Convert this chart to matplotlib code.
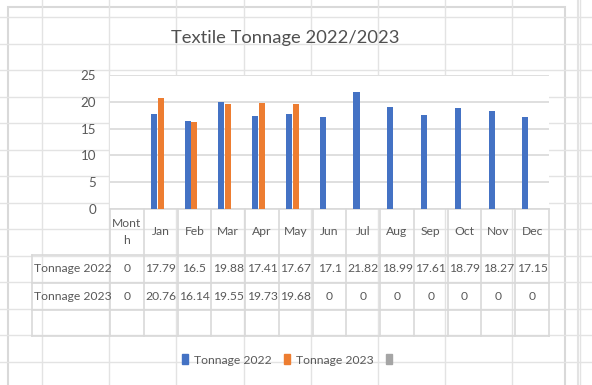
# bar chart of monthly textile tonnage with an Excel-style data table underneath

import matplotlib
matplotlib.use("Agg")
import matplotlib.pyplot as plt
from matplotlib import font_manager
from matplotlib.patches import Rectangle, Patch
import numpy as np

# data as entered in the sheet (first column is the "Month" header column)
categories = ["Month", "Jan", "Feb", "Mar", "Apr", "May", "Jun",
              "Jul", "Aug", "Sep", "Oct", "Nov", "Dec"]
header_labels = ["Mont\nh", "Jan", "Feb", "Mar", "Apr", "May", "Jun",
                 "Jul", "Aug", "Sep", "Oct", "Nov", "Dec"]
tonnage_2022 = [0, 17.79, 16.5, 19.88, 17.41, 17.67, 17.1,
                21.82, 18.99, 17.61, 18.79, 18.27, 17.15]
tonnage_2023 = [0, 20.76, 16.14, 19.55, 19.73, 19.68, 0,
                0, 0, 0, 0, 0, 0]
series_names = ["Tonnage 2022", "Tonnage 2023", ""]
series_colors = ["#4472C4", "#ED7D31", "#A5A5A5"]

# pick a narrow sans font if it is there
names = {f.name for f in font_manager.fontManager.ttflist}
base_font = "Liberation Sans Narrow" if "Liberation Sans Narrow" in names else "Lato"
plt.rcParams["font.family"] = [base_font, "DejaVu Sans"]

text_col = "#595959"
line_col = "#D9D9D9"
fs = 8.7
W, H = 592, 385

fig = plt.figure(figsize=(W / 100, H / 100), dpi=100)

# spreadsheet behind the chart object
bg = fig.add_axes([0, 0, 1, 1], zorder=-1)
bg.set_xlim(0, W)
bg.set_ylim(H, 0)
bg.axis("off")
for x in np.arange(42, W, 67.2):
    bg.plot([x, x], [0, H], color="#E3E3E3", lw=1)
for y in np.arange(17, H, 26.5):
    bg.plot([0, W], [y, y], color="#E3E3E3", lw=1)
bg.plot([578, 578], [0, H], color="#E3E3E3", lw=1.5)
bg.add_patch(Rectangle((8, 7), 557, 400, facecolor="white",
                       edgecolor=line_col, lw=1.5))

# plot area
left, right, top, bottom = 110, 549, 75, 209
ax = fig.add_axes([left / W, 1 - bottom / H, (right - left) / W, (bottom - top) / H])
x = np.arange(len(categories))
width = 0.18
ax.bar(x - 0.2, tonnage_2022, width, color=series_colors[0], zorder=3)
ax.bar(x, tonnage_2023, width, color=series_colors[1], zorder=3)

ax.set_xlim(-0.5, len(categories) - 0.5)
ax.set_ylim(0, 25)
ax.set_yticks(range(0, 26, 5))
ax.set_xticks([])
ax.grid(axis="y", color=line_col, lw=1.2)
ax.set_axisbelow(True)
for s in ax.spines.values():
    s.set_visible(False)
ax.tick_params(axis="y", length=0, pad=10, labelsize=9.6, labelcolor=text_col)

fig.text(285 / W, 1 - 38 / H, "Textile Tonnage 2022/2023", ha="center",
         va="center", fontsize=13.2, color="#505050")

# data table under the bars: x in data units, y in axes units
trans = ax.get_xaxis_transform()
ph = bottom - top
rows_px = [209, 255, 283, 310, 336]
rows = [(bottom - r) / ph for r in rows_px]
label_left = -0.5 - (left - 32) / ((right - left) / len(categories))
edges = np.arange(len(categories) + 1) - 0.5

for i, r in enumerate(rows):
    x0 = edges[0] if i == 0 else label_left
    ax.plot([x0, edges[-1]], [r, r], color=line_col, lw=1.2,
            transform=trans, clip_on=False)
for e in edges:
    ax.plot([e, e], [rows[0], rows[-1]], color=line_col, lw=1.2,
            transform=trans, clip_on=False)
ax.plot([label_left, label_left], [rows[1], rows[-1]], color=line_col, lw=1.2,
        transform=trans, clip_on=False)

def fmt(v):
    return f"{v:g}"

for i, lab in enumerate(header_labels):
    ax.text(i, (rows[0] + rows[1]) / 2, lab, transform=trans, ha="center",
            va="center", fontsize=fs, color=text_col, linespacing=1.6)
for row_i, (name, vals) in enumerate(zip(series_names[:2], [tonnage_2022, tonnage_2023])):
    yc = (rows[row_i + 1] + rows[row_i + 2]) / 2
    ax.text(label_left + 0.06, yc, name, transform=trans, ha="left",
            va="center", fontsize=fs, color=text_col)
    for i, v in enumerate(vals):
        ax.text(i, yc, fmt(v), transform=trans, ha="center", va="center",
                fontsize=fs, color=text_col)

# legend along the bottom
handles = [Patch(color=c) for c in series_colors]
leg = fig.legend(handles, series_names, loc="center", ncol=3,
                 bbox_to_anchor=(290 / W, 1 - 360 / H), frameon=False,
                 fontsize=fs, handlelength=0.5, handleheight=0.85,
                 handletextpad=0.5, columnspacing=1.0)
for t in leg.get_texts():
    t.set_color(text_col)

fig.savefig("out.png", dpi=100)
